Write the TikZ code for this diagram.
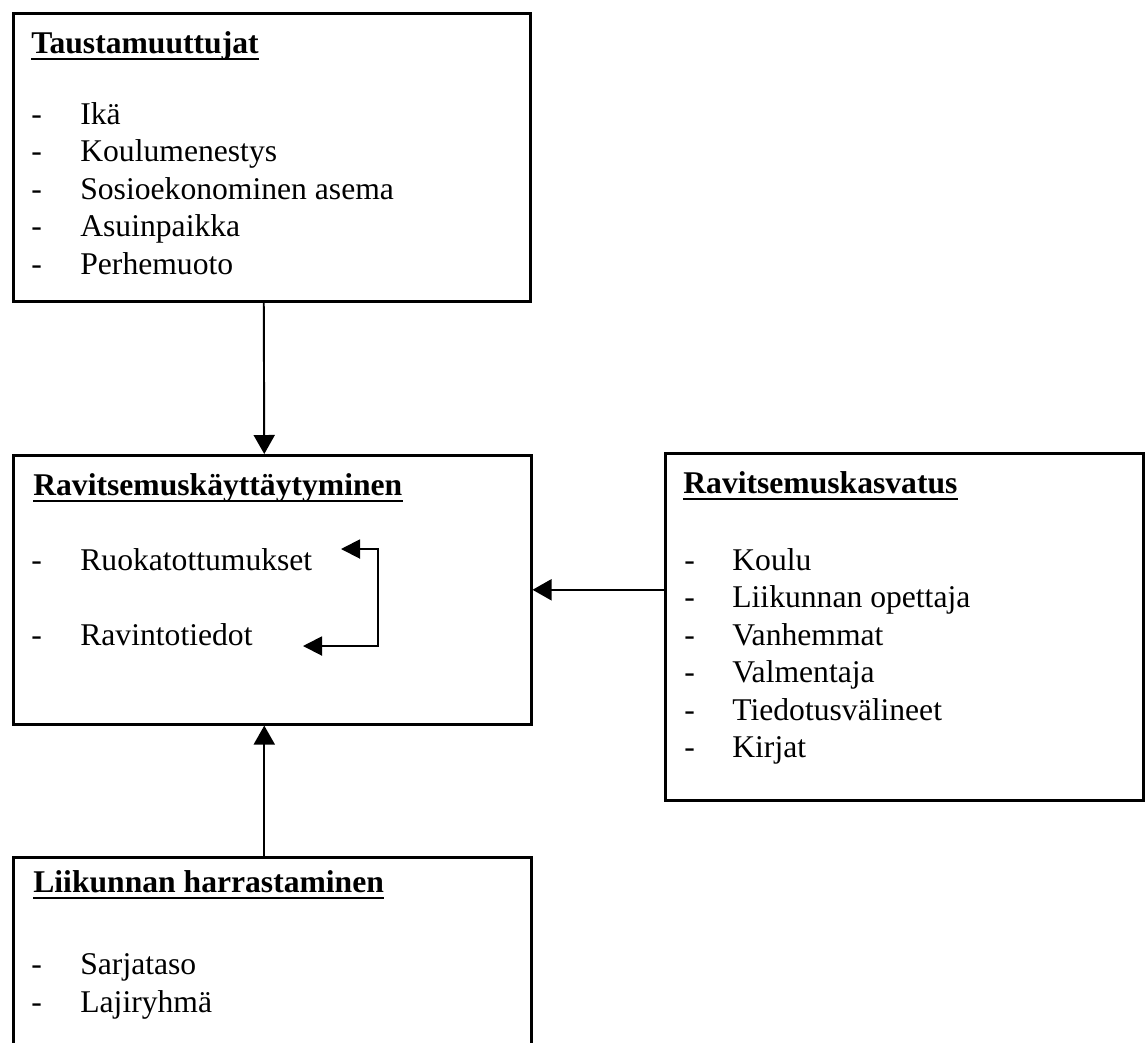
\documentclass[tikz,border=0pt]{standalone}
\usepackage{fontspec}
\setmainfont{Liberation Serif}
\usetikzlibrary{arrows.meta}

\begin{document}
\begin{tikzpicture}[x=0.02cm, y=-0.02cm]
\tikzstyle{every node}=[inner sep=0pt, font=\fontsize{18}{21}\selectfont];
\tikzstyle{laatikko}=[draw, line width=1.5pt, anchor=north west];
\tikzstyle{otsikko}=[anchor=base west, font=\fontsize{18}{21}\selectfont\bfseries];
\tikzstyle{kohta}=[anchor=base west];
\tikzstyle{alleviiva}=[line width=1.1pt];
\tikzstyle{nuoli}=[line width=1.1pt, -{Triangle[length=0.38cm, width=0.42cm]}];
\tikzstyle{kaksinuoli}=[line width=1.1pt, {Triangle[length=0.38cm, width=0.38cm]}-{Triangle[length=0.38cm, width=0.38cm]}];
\path[use as bounding box] (0,0) rectangle (1146,1042);

% laatikot
\node [laatikko, minimum width=10.34cm, minimum height=5.76cm] (taus) at (12,12) {};
\node [laatikko, minimum width=10.36cm, minimum height=5.38cm] (ravk) at (12,454) {};
\node [laatikko, minimum width=9.56cm, minimum height=6.94cm] (ravkas) at (664,452) {};
\node [laatikko, minimum width=10.36cm, minimum height=4.2cm] (liik) at (12,856) {};

% otsikot
\node [otsikko] (tausotsikko) at (31,53) {Taustamuuttujat};
\node [otsikko] (ravkotsikko) at (33,495) {Ravitsemuskäyttäytyminen};
\node [otsikko] (ravkasotsikko) at (683,493) {Ravitsemuskasvatus};
\node [otsikko] (liikotsikko) at (33,892) {Liikunnan harrastaminen};
\foreach \o in {tausotsikko, ravkotsikko, ravkasotsikko, liikotsikko}
  \draw [alleviiva] ([yshift=-3.4pt]\o.base west) -- ([yshift=-3.4pt]\o.base east);

% kohdat
\foreach \t [count=\i from 0] in {Ikä, Koulumenestys, Sosioekonominen asema, Asuinpaikka, Perhemuoto} {
  \node [kohta] (tv\i) at (31,{124+37.5*\i}) {-};
  \node [kohta] (t\i) at (80,{124+37.5*\i}) {\t};
}
\node [kohta] (ruokav) at (31,570) {-};
\node [kohta] (ruoka) at (80,570) {Ruokatottumukset};
\node [kohta] (ravintov) at (31,645) {-};
\node [kohta] (ravinto) at (80,645) {Ravintotiedot};
\foreach \t [count=\i from 0] in {Koulu, Liikunnan opettaja, Vanhemmat, Valmentaja, Tiedotusvälineet, Kirjat} {
  \node [kohta] (kv\i) at (684,{570+37.5*\i}) {-};
  \node [kohta] (k\i) at (732,{570+37.5*\i}) {\t};
}
\node [kohta] (sarjav) at (31,974) {-};
\node [kohta] (sarja) at (80,974) {Sarjataso};
\node [kohta] (lajiv) at (31,1012) {-};
\node [kohta] (laji) at (80,1012) {Lajiryhmä};

% nuolet
\coordinate (ruokakarki) at (341,549);
\coordinate (ravintokarki) at (303,646);
\draw [kaksinuoli] (ruokakarki) -- ++(37,0) |- (ravintokarki);
\draw [nuoli] ([xshift=-0.16cm]taus.south) -- ([xshift=-0.16cm]ravk.north);
\draw [nuoli] (ravkas.west |- ravk.east) -- (ravk.east);
\draw [nuoli] ([xshift=-0.16cm]liik.north) -- ([xshift=-0.16cm]ravk.south);
\end{tikzpicture}
\end{document}
